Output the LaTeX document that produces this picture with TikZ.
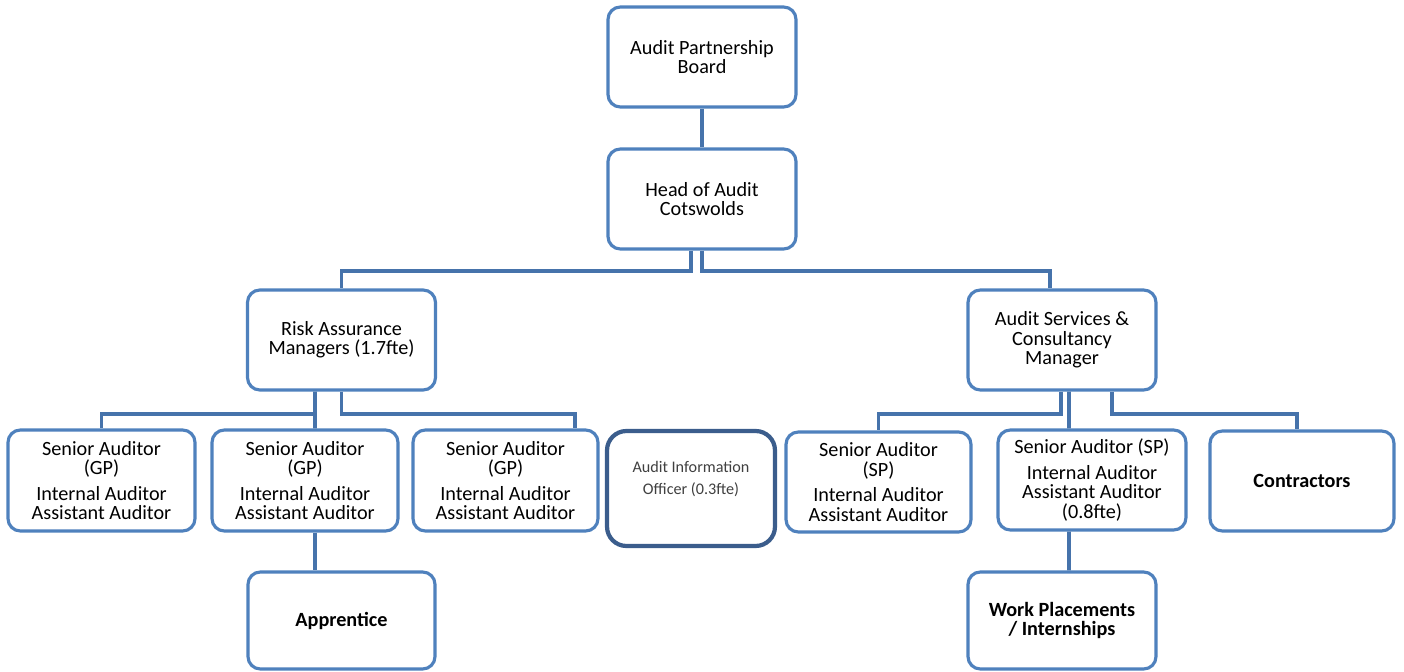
\documentclass[tikz,border=0pt]{standalone}
\usepackage{fontspec}
\setmainfont{Carlito}
\definecolor{boxblue}{HTML}{4F81BD}
\definecolor{linkblue}{HTML}{4673AB}
\definecolor{darkrim}{HTML}{3B5D8C}
\tikzset{
  box/.style={draw=boxblue, line width=1.8pt, rounded corners=7pt, fill=white, align=center,
    minimum width=3.76cm, minimum height=2cm, inner sep=2pt,
    font=\fontsize{11.5}{11}\selectfont},
  boldbox/.style={box, font=\fontsize{11.5}{11}\selectfont\bfseries},
  link/.style={draw=linkblue, line width=2.2pt}
}
\begin{document}
\begin{tikzpicture}[x=0.02cm, y=-0.02cm]
    \useasboundingbox (0,0) rectangle (1404,672);

    \node[box] (board) at (702,57) {Audit Partnership\\Board};
    \node[box] (head) at (702,199) {Head of Audit\\Cotswolds};
    \node[box] (risk) at (341.5,340) {Risk Assurance\\Managers (1.7fte)};
    \node[box] (asc) at (1062,340) {Audit Services \&\\Consultancy\\Manager};

    \node[box, minimum width=3.74cm, minimum height=2.02cm] (sa1) at (101.5,480.5) {Senior Auditor\\(GP)\\[3.5pt]Internal Auditor\\Assistant Auditor};
    \node[box, minimum width=3.72cm, minimum height=2.02cm] (sa2) at (305,480.5) {Senior Auditor\\(GP)\\[3.5pt]Internal Auditor\\Assistant Auditor};
    \node[box, minimum width=3.7cm, minimum height=2.02cm] (sa3) at (505.5,480.5) {Senior Auditor\\(GP)\\[3.5pt]Internal Auditor\\Assistant Auditor};
    \node[box, draw=darkrim, line width=2.4pt, rounded corners=11pt, minimum width=3.36cm, minimum height=2.3cm,
      font=\fontsize{9.2}{12.5}\selectfont, text=black!75] (aio) at (691,488.5) {Audit Information\\Officer (0.3fte)\\\mbox{}};
    \node[box, minimum width=3.7cm] (sasp1) at (878.5,482) {Senior Auditor\\(SP)\\[3.5pt]Internal Auditor\\Assistant Auditor};
    \node[box] (sasp2) at (1092,480) {Senior Auditor (SP)\\[3.5pt]Internal Auditor\\Assistant Auditor\\(0.8fte)};
    \node[boldbox, minimum width=3.68cm] (contr) at (1302,481) {Contractors};

    \node[boldbox, minimum width=3.74cm, minimum height=1.94cm] (appr) at (341.5,620.5) {Apprentice};
    \node[boldbox, minimum height=1.94cm] (work) at (1062,620.5) {Work Placements\\/ Internships};

    % reporting lines
    \draw[link] (board) -- (head);
    \draw[link] ([xshift=-0.22cm]head.south) -- ++(0,20) -| (risk.north);
    \draw[link] (head.south) -- ++(0,20) -| ([xshift=-0.24cm]asc.north);

    \draw[link] ([xshift=-0.53cm]risk.south) -- ++(0,22) -| (sa1.north);
    \draw[link] ([xshift=-0.53cm]risk.south) -- ([xshift=0.2cm]sa2.north);
    \draw[link] (risk.south) -- ++(0,22) -| ([xshift=1.39cm]sa3.north);
    \draw[link] ([xshift=0.2cm]sa2.south) -- ([xshift=0.2cm]sa2.south |- appr.north);

    \draw[link] ([xshift=-0.02cm]asc.south) -- ++(0,22) -| (sasp1.north);
    \draw[link] ([xshift=0.14cm]asc.south) -- ([xshift=-0.46cm]sasp2.north);
    \draw[link] ([xshift=1cm]asc.south) -- ++(0,22) -| ([xshift=-0.1cm]contr.north);
    \draw[link] ([xshift=-0.46cm]sasp2.south) -- ([xshift=0.14cm]work.north);
\end{tikzpicture}
\end{document}
